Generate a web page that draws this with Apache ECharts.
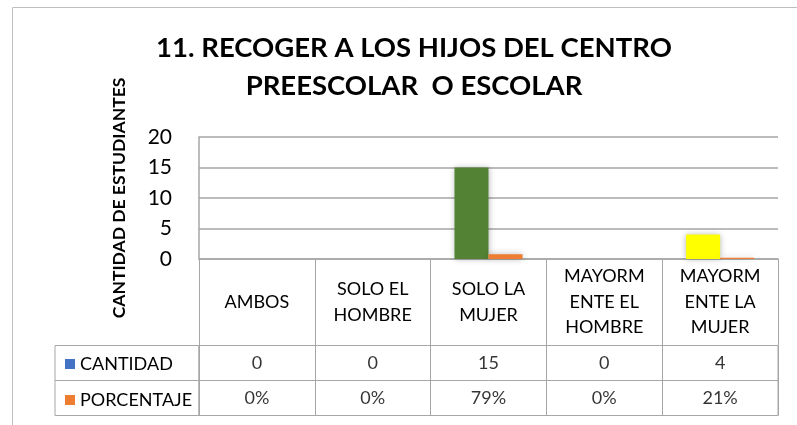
<!DOCTYPE html>
<html>
<head>
<meta charset="utf-8">
<script src="https://cdn.jsdelivr.net/npm/echarts@6/dist/echarts.min.js"></script>
<style>html,body{margin:0;padding:0;background:#fff}#c{width:797px;height:425px}</style>
</head>
<body>
<div id="c"></div>
<script>
// ---- data ----
var categories = ['AMBOS', 'SOLO EL HOMBRE', 'SOLO LA MUJER', 'MAYORMENTE EL HOMBRE', 'MAYORMENTE LA MUJER'];
var headerLabels = ['AMBOS', 'SOLO EL\nHOMBRE', 'SOLO LA\nMUJER', 'MAYORM\nENTE EL\nHOMBRE', 'MAYORM\nENTE LA\nMUJER'];
var cantidad = [0, 0, 15, 0, 4];
var porcentaje = [0, 0, 79, 0, 21];
var seriesNames = ['CANTIDAD', 'PORCENTAJE'];
var yTicks = [0, 5, 10, 15, 20];

// ---- styles ----
var cantidadColors = ['#4472C4', '#4472C4', '#548235', '#4472C4', '#FFFF00'];
var FONT = 'Lato';
var LINE = '#a6a6a6';

var chart = echarts.init(document.getElementById('c'), null, {renderer: 'canvas'});

var tableData = [];
categories.forEach(function (c, i) {
  tableData.push([i, seriesNames[0], String(cantidad[i])]);
  tableData.push([i, seriesNames[1], porcentaje[i] + '%']);
});

var option = {
  backgroundColor: '#fff',
  animation: false,
  title: {
    text: '11. RECOGER A LOS HIJOS DEL CENTRO\nPREESCOLAR  O ESCOLAR',
    left: 409, top: 24, textAlign: 'center',
    textStyle: {fontFamily: FONT, fontWeight: 'bold', fontSize: 27.5, lineHeight: 38, color: '#000'}
  },
  graphic: [{
    type: 'rect', left: 10, top: 5, silent: true,
    shape: {width: 800, height: 440},
    style: {fill: 'none', stroke: '#bfbfbf', lineWidth: 1}
  }],
  legend: {
    data: seriesNames,
    orient: 'vertical', left: 60, top: 350, itemGap: 18,
    icon: 'rect', itemWidth: 10, itemHeight: 10,
    textStyle: {fontFamily: FONT, fontSize: 18, color: '#000', lineHeight: 16},
    selectedMode: false
  },
  grid: [
    {left: 199, right: 19, top: 137, height: 122, containLabel: false},
    {left: 199, right: 19, top: 345.5, height: 70, show: true, borderColor: LINE, borderWidth: 1},
    {left: 55, width: 144, top: 345.5, height: 70, show: true, borderColor: LINE, borderWidth: 1}
  ],
  xAxis: [
    {
      gridIndex: 0, type: 'category', data: categories,
      axisLine: {show: true, lineStyle: {color: LINE, width: 1.5}},
      axisTick: {show: true, length: 86.5, lineStyle: {color: LINE, width: 1}},
      axisLabel: {
        interval: 0, margin: 43, verticalAlign: 'middle',
        fontFamily: FONT, fontSize: 18, lineHeight: 25.5, color: '#000',
        formatter: function (v, i) { return headerLabels[i]; }
      }
    },
    {
      gridIndex: 1, type: 'category', data: categories,
      axisLine: {show: false}, axisTick: {show: false}, axisLabel: {show: false},
      splitLine: {show: true, interval: 0, lineStyle: {color: LINE, width: 1}}
    },
    {
      gridIndex: 2, type: 'category', data: ['x'],
      axisLine: {show: false}, axisTick: {show: false}, axisLabel: {show: false}
    }
  ],
  yAxis: [
    {
      gridIndex: 0, type: 'value', min: 0, max: 20, interval: 5,
      name: 'CANTIDAD DE ESTUDIANTES', nameLocation: 'middle', nameRotate: 90, nameGap: 70.5,
      nameTextStyle: {fontFamily: FONT, fontWeight: 'bold', fontSize: 17.5, color: '#000'},
      axisLine: {show: true, lineStyle: {color: LINE, width: 1.5}},
      axisTick: {show: false},
      axisLabel: {
        margin: 27, fontFamily: FONT, fontSize: 21, color: '#000',
        formatter: function (v) { return yTicks.indexOf(v) >= 0 ? String(v) : ''; }
      },
      splitLine: {show: true, lineStyle: {color: LINE, width: 1.5}}
    },
    {
      gridIndex: 1, type: 'category', data: seriesNames, inverse: true,
      axisLine: {show: false}, axisTick: {show: false}, axisLabel: {show: false},
      splitLine: {show: true, interval: 0, lineStyle: {color: LINE, width: 1}}
    },
    {
      gridIndex: 2, type: 'category', data: seriesNames, inverse: true,
      axisLine: {show: false}, axisTick: {show: false}, axisLabel: {show: false},
      splitLine: {show: true, interval: 0, lineStyle: {color: LINE, width: 1}}
    }
  ],
  series: [
    {
      name: seriesNames[0], type: 'bar', xAxisIndex: 0, yAxisIndex: 0,
      barWidth: 34, barGap: '0%',
      itemStyle: {color: '#4472C4', shadowBlur: 6, shadowColor: 'rgba(0,0,0,0.3)'},
      data: cantidad.map(function (v, i) { return {value: v, itemStyle: {color: cantidadColors[i]}}; })
    },
    {
      name: seriesNames[1], type: 'bar', xAxisIndex: 0, yAxisIndex: 0,
      barWidth: 34, barGap: '0%',
      itemStyle: {color: '#ED7D31', shadowBlur: 6, shadowColor: 'rgba(0,0,0,0.3)'},
      data: porcentaje.map(function (v) { return v / 100; })
    },
    {
      name: 'tabla', type: 'scatter', xAxisIndex: 1, yAxisIndex: 1,
      symbolSize: 1, itemStyle: {color: 'rgba(0,0,0,0)'}, silent: true,
      label: {
        show: true, position: 'inside', fontFamily: FONT, fontSize: 18, color: '#000',
        formatter: function (p) { return p.value[2]; }
      },
      data: tableData
    }
  ]
};
chart.setOption(option);
</script>
</body>
</html>
